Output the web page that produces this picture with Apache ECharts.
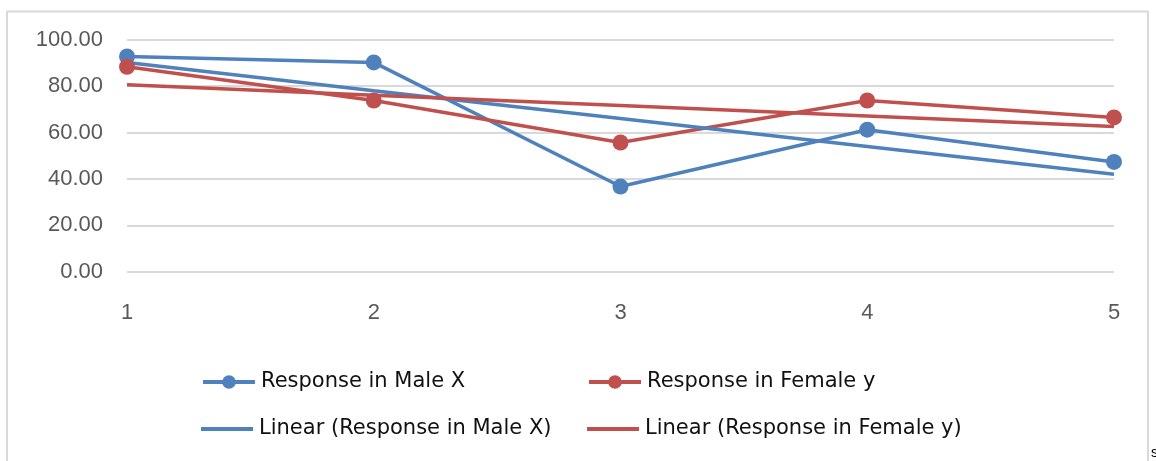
<!DOCTYPE html>
<html>
<head>
<meta charset="utf-8">
<script src="https://cdn.jsdelivr.net/npm/echarts@6/dist/echarts.min.js"></script>
<style>
html,body{margin:0;padding:0;background:#fff;}
#c{width:1156px;height:461px;}
</style>
</head>
<body>
<div id="c"></div>
<script>
var categories = ['1', '2', '3', '4', '5'];
var maleX = [92.8, 90.2, 36.7, 61.2, 47.3];
var femaleY = [88.3, 73.8, 55.7, 73.8, 66.5];
var maleTrend = [90.2, 78.0, 66.0, 54.0, 42.0];
var femaleTrend = [80.6, 76.1, 71.6, 67.1, 62.6];
var yTicks = { min: 0, max: 100, interval: 20 };

var names = ['Response in Male X', 'Response in Female y', 'Linear (Response in Male X)', 'Linear (Response in Female y)'];
var blue = '#4f81bd', red = '#c0504d';

function legendAt(name, left, top, isTrend, color) {
  var lg = {
    left: left, top: top, orient: 'horizontal',
    itemWidth: 52, padding: 0, selectedMode: false,
    textStyle: { fontFamily: 'DejaVu Sans', fontSize: 21, color: '#111', lineHeight: 24, padding: [0, 0, 0, 1] }
  };
  if (isTrend) {
    lg.data = [{ name: name, icon: 'rect', itemStyle: { color: color } }];
    lg.itemHeight = 4;
  } else {
    lg.data = [name];
    lg.itemHeight = 17;
    lg.lineStyle = { width: 4 };
  }
  return lg;
}

var chart = echarts.init(document.getElementById('c'), null, { renderer: 'canvas' });
chart.setOption({
  animation: false,
  backgroundColor: '#fff',
  grid: { left: 127, right: 42, top: 39.7, bottom: 189.3, containLabel: false },
  xAxis: {
    type: 'category', data: categories, boundaryGap: false,
    axisLine: { show: false }, axisTick: { show: false },
    axisLabel: { fontFamily: 'Liberation Sans', fontSize: 22, color: '#595959', margin: 30 }
  },
  yAxis: {
    type: 'value', min: yTicks.min, max: yTicks.max, interval: yTicks.interval,
    axisLine: { show: false }, axisTick: { show: false },
    splitLine: { lineStyle: { color: '#d9d9d9', width: 2 } },
    axisLabel: { fontFamily: 'Liberation Sans', fontSize: 22, color: '#595959', margin: 24,
      formatter: function (v) { return v.toFixed(2); } }
  },
  legend: [
    legendAt(names[0], 201, 370, false, blue),
    legendAt(names[1], 587, 370, false, red),
    legendAt(names[2], 201, 417, true, blue),
    legendAt(names[3], 587, 417, true, red)
  ],
  graphic: [
    { type: 'rect', shape: { x: 7, y: 11.5, width: 1141, height: 470 }, style: { fill: 'none', stroke: '#d9d9d9', lineWidth: 2 }, silent: true },
    { type: 'text', left: 1151, top: 446, style: { text: 's', font: '14px "Liberation Sans"', fill: '#000' }, silent: true }
  ],
  series: [
    { name: names[0], type: 'line', data: maleX, symbol: 'circle', symbolSize: 16,
      lineStyle: { color: blue, width: 3.5 }, itemStyle: { color: blue } },
    { name: names[1], type: 'line', data: femaleY, symbol: 'circle', symbolSize: 16,
      lineStyle: { color: red, width: 3.5 }, itemStyle: { color: red } },
    { name: names[2], type: 'line', data: maleTrend, symbol: 'none',
      lineStyle: { color: blue, width: 3.5 }, itemStyle: { color: blue } },
    { name: names[3], type: 'line', data: femaleTrend, symbol: 'none',
      lineStyle: { color: red, width: 3.5 }, itemStyle: { color: red } }
  ]
});
</script>
</body>
</html>
